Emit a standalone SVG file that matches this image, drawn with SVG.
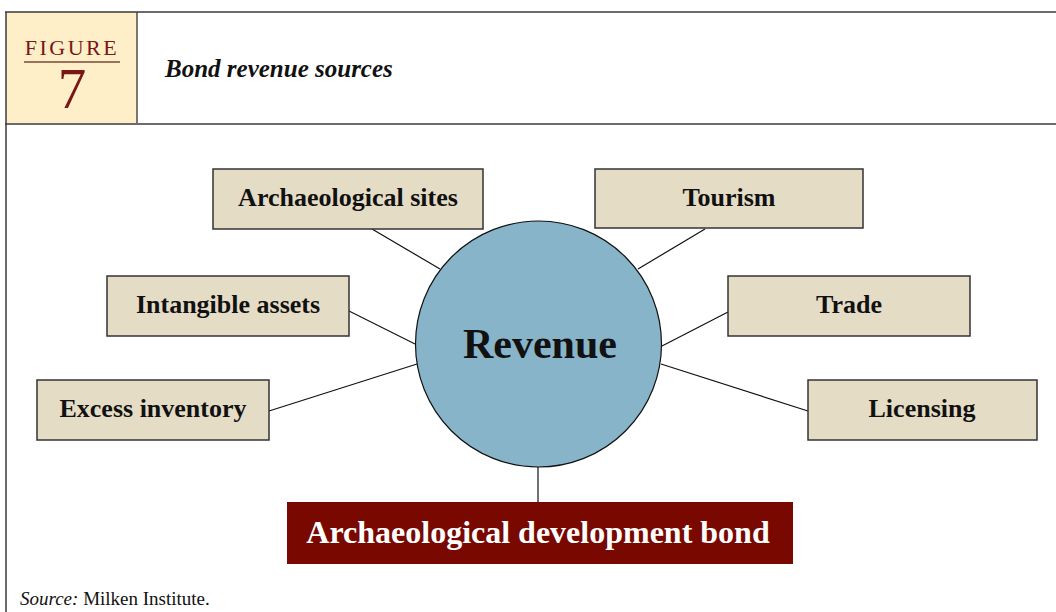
<svg xmlns="http://www.w3.org/2000/svg" width="1056" height="612" viewBox="0 0 1056 612">
<style>
.frame{fill:none;stroke:#3a3a3a;stroke-width:1.5}
.box{fill:#E5DCC6;stroke:#333;stroke-width:1.5}
.lbl{font-family:"Liberation Serif","Times New Roman",serif;font-weight:bold;font-size:26px;fill:#111;text-anchor:middle}
.conn line{stroke:#111;stroke-width:1.2}
</style>
<rect x="0" y="0" width="1056" height="612" fill="#fff"/>
<g id="header">
<rect x="6" y="12" width="131" height="111" fill="#FFEFC8"/>
<line x1="137" y1="12" x2="137" y2="123" stroke="#222" stroke-width="1.2"/>
<line x1="5" y1="12" x2="1056" y2="12" class="frame"/>
<line x1="5" y1="124" x2="1056" y2="124" class="frame"/>
<line x1="6" y1="12" x2="6" y2="612" class="frame"/>
<text x="72" y="55" font-family="Liberation Serif,serif" font-size="22" letter-spacing="2.5" fill="#7A1616" text-anchor="middle">FIGURE</text>
<line x1="24" y1="62" x2="120" y2="62" stroke="#7A4A3A" stroke-width="1.5"/>
<text x="72" y="108" font-family="Liberation Serif,serif" font-size="57" fill="#7A1616" text-anchor="middle">7</text>
<text x="165" y="77" font-family="Liberation Serif,serif" font-style="italic" font-weight="bold" font-size="25" fill="#111">Bond revenue sources</text>
</g>
<g id="connectors" class="conn">
<line x1="372" y1="229" x2="440" y2="269"/>
<line x1="705" y1="229" x2="638" y2="269"/>
<line x1="349" y1="311" x2="415" y2="344"/>
<line x1="728" y1="312" x2="662" y2="346"/>
<line x1="269" y1="411" x2="417" y2="364"/>
<line x1="808" y1="411" x2="661" y2="364"/>
<line x1="538" y1="467" x2="538" y2="502"/>
</g>
<g id="revenue">
<circle cx="538.5" cy="344" r="123" fill="#88B4CA" stroke="#111" stroke-width="1.2"/>
<text x="540" y="358" class="lbl" style="font-size:42px">Revenue</text>
</g>
<g id="archaeological-sites">
<rect x="213" y="169" width="270" height="60" class="box"/>
<text x="348" y="206" class="lbl">Archaeological sites</text>
</g>
<g id="tourism">
<rect x="595" y="169" width="268" height="59" class="box"/>
<text x="729" y="206" class="lbl">Tourism</text>
</g>
<g id="intangible-assets">
<rect x="107" y="276" width="242" height="60" class="box"/>
<text x="228" y="313" class="lbl">Intangible assets</text>
</g>
<g id="trade">
<rect x="728" y="276" width="242" height="60" class="box"/>
<text x="849" y="313" class="lbl">Trade</text>
</g>
<g id="excess-inventory">
<rect x="37" y="380" width="232" height="60" class="box"/>
<text x="153" y="417" class="lbl">Excess inventory</text>
</g>
<g id="licensing">
<rect x="808" y="380" width="229" height="60" class="box"/>
<text x="922" y="417" class="lbl">Licensing</text>
</g>
<g id="bond">
<rect x="287" y="502" width="506" height="62" fill="#780800"/>
<text x="538" y="543" class="lbl" style="font-size:32px;fill:#fff">Archaeological development bond</text>
</g>
<g id="source">
<text x="20" y="605" font-family="Liberation Serif,serif" font-size="19" fill="#111"><tspan font-style="italic">Source:</tspan> Milken Institute.</text>
</g>
</svg>
